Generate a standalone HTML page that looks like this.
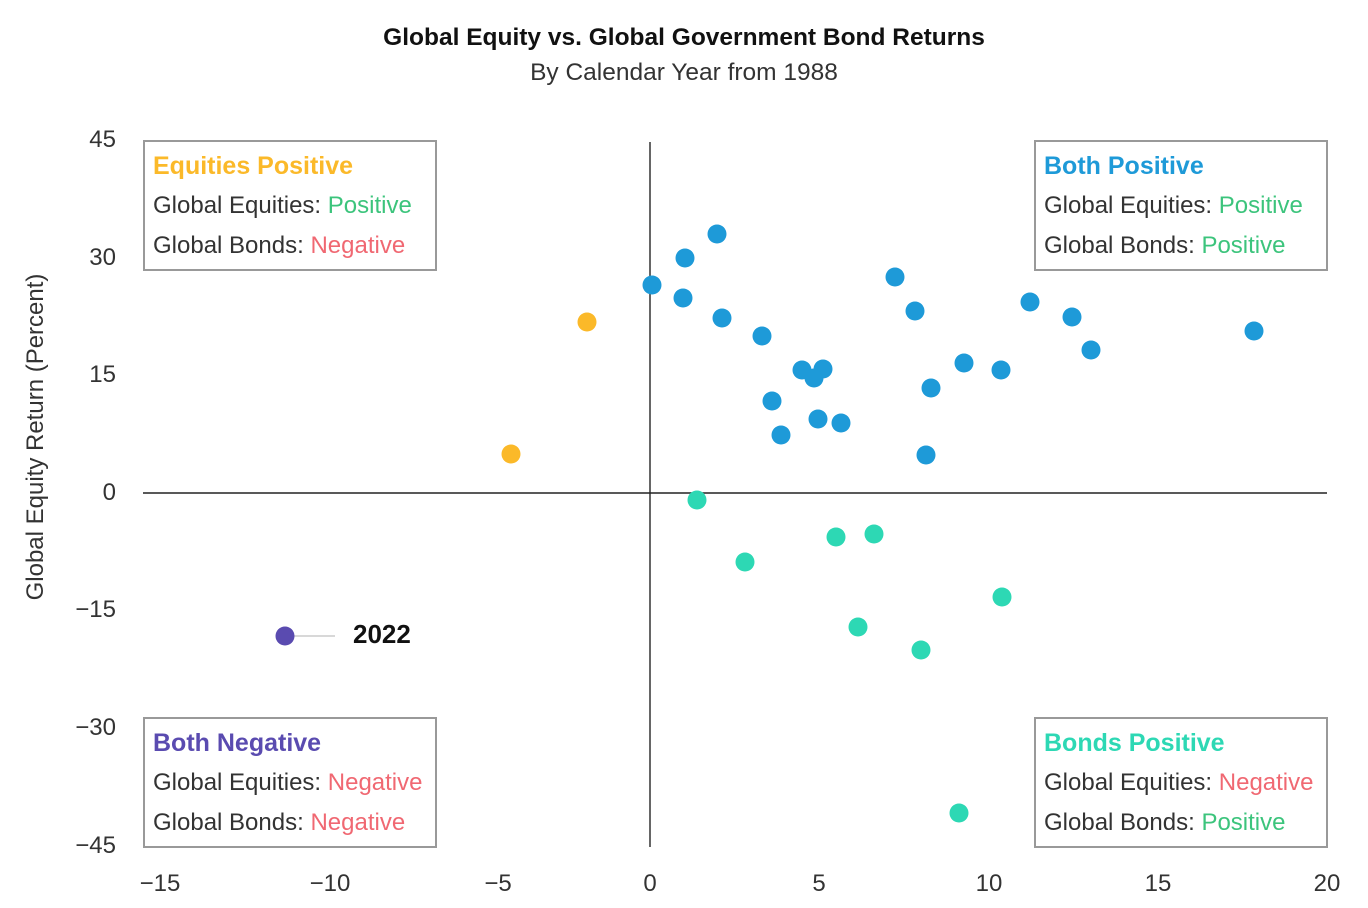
<!DOCTYPE html>
<html><head><meta charset="utf-8"><style>
body{margin:0;background:#fff}
svg{display:block;font-family:"Liberation Sans",sans-serif}
</style></head><body>
<svg width="1368" height="908" viewBox="0 0 1368 908">
<text x="684" y="45" text-anchor="middle" font-size="24.5" font-weight="bold" fill="#111">Global Equity vs. Global Government Bond Returns</text>
<text x="684" y="80" text-anchor="middle" font-size="24.5" fill="#333">By Calendar Year from 1988</text>
<g font-size="24" fill="#333" text-anchor="end">
<text x="116" y="147">45</text><text x="116" y="265">30</text><text x="116" y="382">15</text><text x="116" y="500">0</text><text x="116" y="617">−15</text><text x="116" y="735">−30</text><text x="116" y="853">−45</text>
</g>
<g font-size="24" fill="#333" text-anchor="middle">
<text x="160" y="891">−15</text><text x="330" y="891">−10</text><text x="498" y="891">−5</text><text x="650" y="891">0</text><text x="819" y="891">5</text><text x="989" y="891">10</text><text x="1158" y="891">15</text><text x="1327" y="891">20</text>
</g>
<text transform="translate(43,437) rotate(-90)" text-anchor="middle" font-size="24" fill="#333">Global Equity Return (Percent)</text>
<line x1="650" y1="142" x2="650" y2="847" stroke="#333" stroke-width="1.5"/>
<line x1="143" y1="493" x2="1327" y2="493" stroke="#222" stroke-width="1.5"/>
<g fill="#fff" stroke="#999" stroke-width="2">
<rect x="144" y="141" width="292" height="129"/><rect x="1035" y="141" width="292" height="129"/>
<rect x="144" y="718" width="292" height="129"/><rect x="1035" y="718" width="292" height="129"/>
</g>
<g font-size="24" fill="#333">
<text x="153" y="174" font-weight="bold" font-size="25" fill="#fbb929">Equities Positive</text>
<text x="153" y="213">Global Equities: <tspan fill="#3cc47c">Positive</tspan></text>
<text x="153" y="253">Global Bonds: <tspan fill="#f06872">Negative</tspan></text>
<text x="1044" y="174" font-weight="bold" font-size="25" fill="#1e9ad8">Both Positive</text>
<text x="1044" y="213">Global Equities: <tspan fill="#3cc47c">Positive</tspan></text>
<text x="1044" y="253">Global Bonds: <tspan fill="#3cc47c">Positive</tspan></text>
<text x="153" y="751" font-weight="bold" font-size="25" fill="#5a4bb0">Both Negative</text>
<text x="153" y="790">Global Equities: <tspan fill="#f06872">Negative</tspan></text>
<text x="153" y="830">Global Bonds: <tspan fill="#f06872">Negative</tspan></text>
<text x="1044" y="751" font-weight="bold" font-size="25" fill="#2dd8b4">Bonds Positive</text>
<text x="1044" y="790">Global Equities: <tspan fill="#f06872">Negative</tspan></text>
<text x="1044" y="830">Global Bonds: <tspan fill="#3cc47c">Positive</tspan></text>
</g>
<g fill="#1e9ad8">
<circle cx="652" cy="285" r="9.5"/><circle cx="685" cy="258" r="9.5"/><circle cx="717" cy="234" r="9.5"/><circle cx="683" cy="298" r="9.5"/><circle cx="722" cy="318" r="9.5"/><circle cx="762" cy="336" r="9.5"/><circle cx="802" cy="370" r="9.5"/><circle cx="814" cy="378" r="9.5"/><circle cx="823" cy="369" r="9.5"/><circle cx="772" cy="401" r="9.5"/><circle cx="781" cy="435" r="9.5"/><circle cx="818" cy="419" r="9.5"/><circle cx="841" cy="423" r="9.5"/><circle cx="895" cy="277" r="9.5"/><circle cx="915" cy="311" r="9.5"/><circle cx="931" cy="388" r="9.5"/><circle cx="926" cy="455" r="9.5"/><circle cx="964" cy="363" r="9.5"/><circle cx="1001" cy="370" r="9.5"/><circle cx="1030" cy="302" r="9.5"/><circle cx="1072" cy="317" r="9.5"/><circle cx="1091" cy="350" r="9.5"/><circle cx="1254" cy="331" r="9.5"/>
</g>
<g fill="#fbb929"><circle cx="587" cy="322" r="9.5"/><circle cx="511" cy="454" r="9.5"/></g>
<g fill="#2dd8b4">
<circle cx="697" cy="500" r="9.5"/><circle cx="745" cy="562" r="9.5"/><circle cx="836" cy="537" r="9.5"/><circle cx="874" cy="534" r="9.5"/><circle cx="858" cy="627" r="9.5"/><circle cx="921" cy="650" r="9.5"/><circle cx="1002" cy="597" r="9.5"/><circle cx="959" cy="813" r="9.5"/>
</g>
<line x1="285" y1="636" x2="335" y2="636" stroke="#ccc" stroke-width="1.5"/>
<circle cx="285" cy="636" r="9.5" fill="#5a4bb0"/>
<text x="353" y="643" font-size="26" font-weight="bold" fill="#111">2022</text>
</svg>
</body></html>
